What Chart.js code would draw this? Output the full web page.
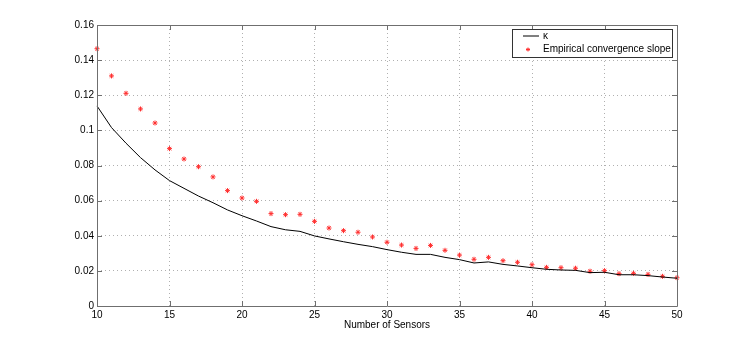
<!DOCTYPE html>
<html>
<head>
<meta charset="utf-8">
<script src="https://cdn.jsdelivr.net/npm/chart.js@4"></script>
<style>
html,body{margin:0;padding:0;background:#fff;}
#wrap{width:747px;height:345px;}
</style>
</head>
<body>
<div id="wrap"><canvas id="c" width="747" height="345"></canvas></div>
<script>
const sensors = [10,11,12,13,14,15,16,17,18,19,20,21,22,23,24,25,26,27,28,29,30,31,32,33,34,35,36,37,38,39,40,41,42,43,44,45,46,47,48,49,50];
const kappa = [0.1139,0.1016,0.0927,0.0845,0.0775,0.0714,0.0670,0.0626,0.0588,0.0547,0.0514,0.0484,0.0452,0.0434,0.0425,0.0399,0.0382,0.0366,0.0351,0.0338,0.0321,0.0306,0.0294,0.0294,0.0277,0.0264,0.0245,0.0251,0.0237,0.0228,0.0218,0.0209,0.0205,0.0203,0.0190,0.0192,0.0178,0.0178,0.0173,0.0165,0.0158];
const empirical = [0.1465,0.1310,0.1211,0.1122,0.1042,0.0896,0.0837,0.0793,0.0735,0.0657,0.0615,0.0596,0.0526,0.0520,0.0522,0.0482,0.0444,0.0429,0.0420,0.0393,0.0363,0.0347,0.0328,0.0345,0.0317,0.0290,0.0266,0.0277,0.0258,0.0249,0.0235,0.0220,0.0218,0.0215,0.0198,0.0201,0.0184,0.0186,0.0180,0.0169,0.0161];
const legendLabels = ['\u03BA','Empirical convergence slope'];
const xTitle = 'Number of Sensors';

const FONT = {family:'"Liberation Sans", Arial, Helvetica, sans-serif', size:10};

const frame = {
  id:'frame',
  afterDraw(chart){
    const {ctx, chartArea:a, scales:{x,y}} = chart;
    ctx.save();
    ctx.strokeStyle = '#6f6f6f';
    ctx.lineWidth = 1;
    ctx.beginPath();
    ctx.rect(Math.round(a.left)+0.5, Math.round(a.top)+0.5, Math.round(a.right-a.left), Math.round(a.bottom-a.top));
    ctx.stroke();
    ctx.beginPath();
    const tl = 5;
    x.ticks.forEach(t=>{
      const px = Math.round(x.getPixelForValue(t.value))+0.5;
      ctx.moveTo(px,a.bottom); ctx.lineTo(px,a.bottom-tl);
      ctx.moveTo(px,a.top); ctx.lineTo(px,a.top+tl);
    });
    y.ticks.forEach(t=>{
      const py = Math.round(y.getPixelForValue(t.value))+0.5;
      ctx.moveTo(a.left,py); ctx.lineTo(a.left+tl,py);
      ctx.moveTo(a.right,py); ctx.lineTo(a.right-tl,py);
    });
    ctx.stroke();
    // legend box
    const lx = 512.5, ly = 29.5, lw = 160, lh = 28;
    ctx.fillStyle = '#fff';
    ctx.fillRect(lx,ly,lw,lh);
    ctx.strokeStyle = '#333';
    ctx.strokeRect(lx,ly,lw,lh);
    ctx.strokeStyle = '#000';
    ctx.beginPath();
    ctx.moveTo(523,36); ctx.lineTo(539,36);
    ctx.stroke();
    ctx.font = '10px "Liberation Sans", Arial, sans-serif';
    ctx.fillStyle = '#000';
    ctx.textBaseline = 'middle';
    ctx.fillText(legendLabels[0], 543, 36);
    ctx.fillText(legendLabels[1], 543, 49.5);
    // star marker
    ctx.strokeStyle = '#ff3030';
    ctx.lineWidth = 1;
    const sx = 528, sy = 49.5, r = 2;
    ctx.beginPath();
    for (let i=0;i<4;i++){
      const ang = i*Math.PI/4;
      ctx.moveTo(sx+Math.cos(ang)*r, sy+Math.sin(ang)*r);
      ctx.lineTo(sx-Math.cos(ang)*r, sy-Math.sin(ang)*r);
    }
    ctx.stroke();
    ctx.restore();
  }
};

new Chart(document.getElementById('c'), {
  type:'line',
  data:{
    datasets:[
      {label:legendLabels[0], data:sensors.map((s,i)=>({x:s,y:kappa[i]})), borderColor:'#000', borderWidth:1, pointRadius:0, tension:0, fill:false},
      {label:legendLabels[1], data:sensors.map((s,i)=>({x:s,y:empirical[i]})), showLine:false, pointStyle:'star', pointRadius:2.5, borderColor:'#ff3030', backgroundColor:'#ff3030', pointBorderWidth:1}
    ]
  },
  options:{
    responsive:false,
    animation:false,
    clip:false,
    layout:{padding:{top:25, right:70, left:0, bottom:8}},
    plugins:{legend:{display:false}, tooltip:{enabled:false}},
    scales:{
      x:{
        type:'linear', min:10, max:50,
        ticks:{stepSize:5, color:'#000', font:FONT, padding:3, maxRotation:0},
        grid:{color:'#b0b0b0', drawTicks:false, lineWidth:1},
        border:{display:false, dash:[1,3]},
        title:{display:true, text:xTitle, color:'#000', font:FONT, padding:{top:0,bottom:6}},
        afterFit(s){ s.height = 31; }
      },
      y:{
        min:0, max:0.16,
        ticks:{stepSize:0.02, color:'#000', font:FONT, padding:3, callback:v=>parseFloat(v.toFixed(2)).toString()},
        grid:{color:'#b0b0b0', drawTicks:false, lineWidth:1},
        border:{display:false, dash:[1,3]},
        afterFit(s){ s.width = 97; }
      }
    }
  },
  plugins:[frame]
});
</script>
</body>
</html>
